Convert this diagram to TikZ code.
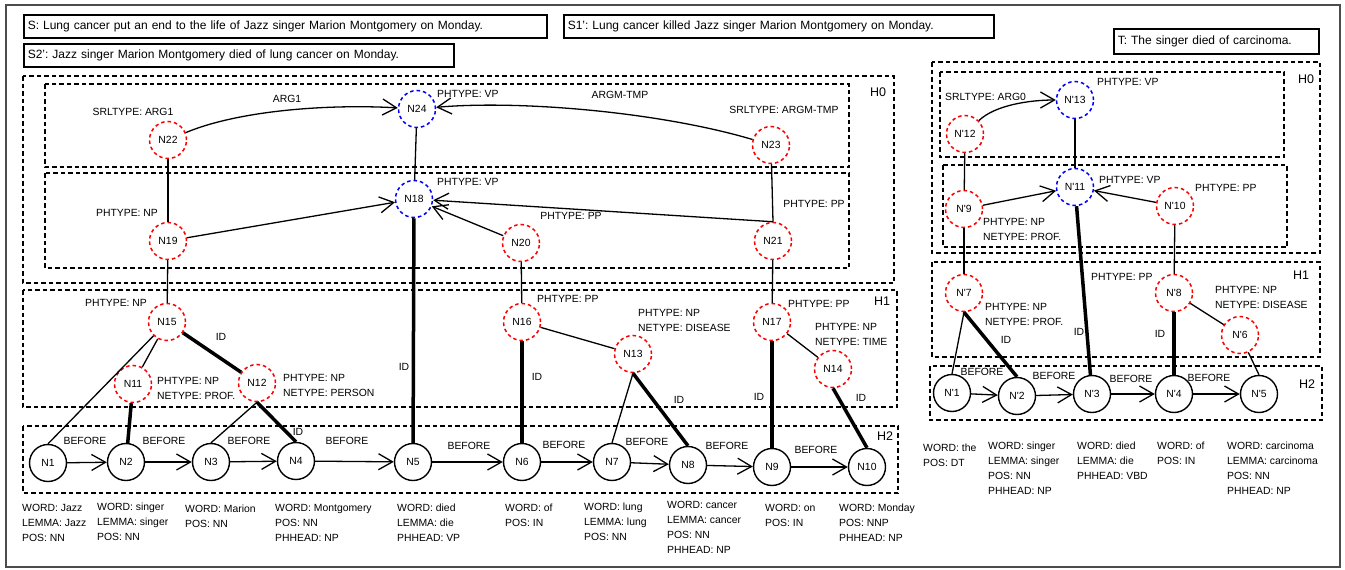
\documentclass[tikz,border=0pt]{standalone}
\usepackage{fontspec}
\setmainfont{Liberation Sans}
\usetikzlibrary{arrows.meta}
\frenchspacing
\begin{document}
\begin{tikzpicture}[x=1pt,y=-1pt,
  every node/.style={font=\fontsize{10.4}{15}\selectfont, inner sep=0pt},
  tok/.style={circle,draw,line width=1.4pt,minimum size=37pt},
  rnode/.style={circle,draw=red,dash pattern=on 3.5pt off 3pt,line width=1.5pt,minimum size=37pt},
  bnode/.style={circle,draw=blue,dash pattern=on 3.5pt off 3pt,line width=1.5pt,minimum size=37pt},
  ln/.style={line width=1.3pt},
  idl/.style={line width=3.5pt},
  arr/.style={line width=1.3pt,-{Straight Barb[length=14pt,width=16pt,line width=1.3pt]}},
  hbox/.style={dash pattern=on 4.5pt off 3pt,line width=1.5pt},
  lbl/.style={anchor=west},
  mlbl/.style={anchor=north west,align=left},
  hl/.style={font=\fontsize{12.5}{14}\selectfont},
  capbox/.style={draw,line width=1.5pt,font=\fontsize{12}{14}\selectfont,anchor=north west,align=left,inner xsep=4pt,minimum height=23pt}
]
\useasboundingbox (0,0) rectangle (1345,570);
\draw[black!70,line width=1.2pt] (6,5) rectangle (1340,567);

% captions
\node[capbox,text width=515pt] (S) at (23,14) {S: Lung cancer put an end to the life of Jazz singer Marion Montgomery on Monday.};
\node[capbox,text width=422pt] (S2) at (23,43) {S2’: Jazz singer Marion Montgomery died of lung cancer on Monday.};
\node[capbox,text width=422pt] (S1) at (563,14) {S1’: Lung cancer killed Jazz singer Marion Montgomery on Monday.};
\node[capbox,text width=197pt,minimum height=25pt] (T) at (1113,28) {T: The singer died of carcinoma.};

% region boxes left
\draw[hbox] (23,76) rectangle (894,283);
\draw[hbox] (45,84) rectangle (849,167);
\draw[hbox] (45,173) rectangle (849,268);
\draw[hbox] (23,290) rectangle (897,407);
\draw[hbox] (23,426) rectangle (898,493);
% region boxes right
\draw[hbox] (932,62) rectangle (1320,253);
\draw[hbox] (940,72) rectangle (1284,157);
\draw[hbox] (943,165) rectangle (1287,247);
\draw[hbox] (932,262) rectangle (1320,357);
\draw[hbox] (930,366) rectangle (1322,420);

\node[hl] (h0l) at (878,92) {H0};
\node[hl] (h1l) at (882,301) {H1};
\node[hl] (h2l) at (885,436) {H2};
\node[hl] (h0r) at (1306,79) {H0};
\node[hl] (h1r) at (1301,275) {H1};
\node[hl] (h2r) at (1307,384) {H2};

% left nodes
\node[rnode] (N22) at (168,140) {N22};
\node[bnode] (N24) at (417,109) {N24};
\node[rnode] (N23) at (771,145) {N23};
\node[bnode] (N18) at (414,199) {N18};
\node[rnode] (N19) at (168,241) {N19};
\node[rnode] (N20) at (521,243) {N20};
\node[rnode] (N21) at (773,241) {N21};
\node[rnode] (N15) at (167,322) {N15};
\node[rnode] (N11) at (133,384) {N11};
\node[rnode] (N12) at (257,383) {N12};
\node[rnode] (N16) at (522,322) {N16};
\node[rnode] (N13) at (633,354) {N13};
\node[rnode] (N17) at (772,322) {N17};
\node[rnode] (N14) at (833,369) {N14};
\node[tok] (N1) at (48,463) {N1};
\node[tok] (N2) at (126,462) {N2};
\node[tok] (N3) at (211,462) {N3};
\node[tok] (N4) at (296,461) {N4};
\node[tok] (N5) at (413,462) {N5};
\node[tok] (N6) at (522,462) {N6};
\node[tok] (N7) at (612,462) {N7};
\node[tok] (N8) at (688,465) {N8};
\node[tok] (N9) at (772,467) {N9};
\node[tok] (N10) at (867,467) {N10};

% right nodes
\node[bnode] (M13) at (1075,100) {N\textquotesingle 13};
\node[rnode] (M12) at (965,134) {N\textquotesingle 12};
\node[bnode] (M11) at (1075,187) {N\textquotesingle 11};
\node[rnode] (M9) at (964,209) {N\textquotesingle 9};
\node[rnode] (M10) at (1175,206) {N\textquotesingle 10};
\node[rnode] (M7) at (964,293) {N\textquotesingle 7};
\node[rnode] (M8) at (1174,293) {N\textquotesingle 8};
\node[rnode] (M6) at (1240,335) {N\textquotesingle 6};
\node[tok] (M1) at (952,393) {N\textquotesingle 1};
\node[tok] (M2) at (1017,396) {N\textquotesingle 2};
\node[tok] (M3) at (1092,394) {N\textquotesingle 3};
\node[tok] (M4) at (1174,394) {N\textquotesingle 4};
\node[tok] (M5) at (1259,394) {N\textquotesingle 5};

% left edges
\draw[arr] (N22) .. controls (240,110) and (330,104) .. (N24);
\draw[arr] (N23) .. controls (660,112) and (520,100) .. (N24);
\draw[ln] (N24) -- (N18);
\draw[ln] (N22) -- (N19);
\draw[arr] (N19) -- (N18);
\draw[arr] (N20) -- (N18);
\draw[arr] (N21.north) -- (N18);
\draw[ln] (N23) -- (N21.north);
\draw[ln] (N19) -- (N15);
\draw[idl] (N18) -- (N5);
\draw[ln] (N20) -- (N16);
\draw[ln] (N21) -- (N17);
\draw[ln] (N15) -- (N1.north);
\draw[ln] (N15) -- (N11);
\draw[idl] (N15) -- (N12);
\draw[idl] (N11) -- (N2);
\draw[ln] (N12.south) -- (N3.north);
\draw[idl] (N12.south) -- (N4.north);
\draw[idl] (N16) -- (N6);
\draw[ln] (N16) -- (N13);
\draw[ln] (N13.south) -- (N7.north);
\draw[idl] (N13.south) -- (N8.north);
\draw[idl] (N17) -- (N9);
\draw[ln] (N17) -- (N14);
\draw[idl] (N14.south) -- (N10.north);
\draw[arr] (N1) -- (N2);
\draw[arr] (N2) -- (N3);
\draw[arr] (N3) -- (N4);
\draw[arr] (N4) -- (N5);
\draw[arr] (N5) -- (N6);
\draw[arr] (N6) -- (N7);
\draw[arr] (N7) -- (N8);
\draw[arr] (N8) -- (N9);
\draw[arr] (N9) -- (N10);

% right edges
\draw[arr] (M12) .. controls (995,105) and (1030,100) .. (M13);
\draw[ln] (M13) -- (M11);
\draw[ln] (M12) -- (M9);
\draw[arr] (M9) -- (M11);
\draw[arr] (M10) -- (M11);
\draw[ln] (M9) -- (M7);
\draw[ln] (M10) -- (M8);
\draw[idl] (M11) -- (M3);
\draw[ln] (M7.south) -- (M1.north);
\draw[idl] (M7.south) -- (M2.north);
\draw[idl] (M8) -- (M4);
\draw[ln] (M8) -- (M6);
\draw[ln] (M6) -- (M5.north);
\draw[arr] (M1) -- (M2);
\draw[arr] (M2) -- (M3);
\draw[arr] (M3) -- (M4);
\draw[arr] (M4) -- (M5);

% left labels
\node (l22) at (133,112) {SRLTYPE: ARG1};
\node (lA1) at (287,99) {ARG1};
\node[lbl] (l24) at (437,94) {PHTYPE: VP};
\node (lAT) at (620,95) {ARGM-TMP};
\node (l23) at (784,110) {SRLTYPE: ARGM-TMP};
\node[lbl] (l18) at (437,182) {PHTYPE: VP};
\node (l19) at (127,213) {PHTYPE: NP};
\node (l20) at (571,216) {PHTYPE: PP};
\node (l21) at (814,204) {PHTYPE: PP};
\node (l15) at (116,303) {PHTYPE: NP};
\node (id1) at (221,337) {ID};
\node[mlbl] (l11) at (157,377) {PHTYPE: NP\\NETYPE: PROF.};
\node[mlbl] (l12) at (283,374) {PHTYPE: NP\\NETYPE: PERSON};
\node (id2) at (404,367) {ID};
\node (id3) at (298,432) {ID};
\node[lbl] (l16) at (537,299) {PHTYPE: PP};
\node[mlbl] (l13) at (638,309) {PHTYPE: NP\\NETYPE: DISEASE};
\node (id4) at (537,377) {ID};
\node (id5) at (679,400) {ID};
\node[lbl] (l17) at (788,304) {PHTYPE: PP};
\node[mlbl] (l14) at (815,323) {PHTYPE: NP\\NETYPE: TIME};
\node (id6) at (759,397) {ID};
\node (id7) at (861,398) {ID};
\node (b1) at (85,441) {BEFORE};
\node (b2) at (164,441) {BEFORE};
\node (b3) at (249,441) {BEFORE};
\node (b4) at (347,441) {BEFORE};
\node (b5) at (469,446) {BEFORE};
\node (b6) at (564,445) {BEFORE};
\node (b7) at (647,442) {BEFORE};
\node (b8) at (727,446) {BEFORE};
\node (b9) at (816,450) {BEFORE};
\node[mlbl] (w1) at (22,504) {WORD: Jazz\\LEMMA: Jazz\\POS: NN};
\node[mlbl] (w2) at (97,503) {WORD: singer\\LEMMA: singer\\POS: NN};
\node[mlbl] (w3) at (185,505) {WORD: Marion\\POS: NN};
\node[mlbl] (w4) at (275,504) {WORD: Montgomery\\POS: NN\\PHHEAD: NP};
\node[mlbl] (w5) at (397,504) {WORD: died\\LEMMA: die\\PHHEAD: VP};
\node[mlbl] (w6) at (505,504) {WORD: of\\POS: IN};
\node[mlbl] (w7) at (584,503) {WORD: lung\\LEMMA: lung\\POS: NN};
\node[mlbl] (w8) at (667,501) {WORD: cancer\\LEMMA: cancer\\POS: NN\\PHHEAD: NP};
\node[mlbl] (w9) at (765,504) {WORD: on\\POS: IN};
\node[mlbl] (w10) at (839,504) {WORD: Monday\\POS: NNP\\PHHEAD: NP};

% right labels
\node[lbl] (r13) at (1097,82) {PHTYPE: VP};
\node[lbl] (r12) at (945,97) {SRLTYPE: ARG0};
\node[lbl] (r11) at (1099,180) {PHTYPE: VP};
\node[lbl] (r10) at (1195,188) {PHTYPE: PP};
\node[mlbl] (r9) at (983,218) {PHTYPE: NP\\NETYPE: PROF.};
\node[lbl] (r3) at (1091,277) {PHTYPE: PP};
\node[mlbl] (r8) at (1215,286) {PHTYPE: NP\\NETYPE: DISEASE};
\node[mlbl] (r7) at (985,303) {PHTYPE: NP\\NETYPE: PROF.};
\node (rid1) at (1006,340) {ID};
\node (rid2) at (1079,332) {ID};
\node (rid3) at (1160,334) {ID};
\node (rb1) at (982,372) {BEFORE};
\node (rb2) at (1054,376) {BEFORE};
\node (rb3) at (1131,379) {BEFORE};
\node (rb4) at (1209,378) {BEFORE};
\node[mlbl] (rw1) at (923,444) {WORD: the\\POS: DT};
\node[mlbl] (rw2) at (988,442) {WORD: singer\\LEMMA: singer\\POS: NN\\PHHEAD: NP};
\node[mlbl] (rw3) at (1077,442) {WORD: died\\LEMMA: die\\PHHEAD: VBD};
\node[mlbl] (rw4) at (1157,442) {WORD: of\\POS: IN};
\node[mlbl] (rw5) at (1227,442) {WORD: carcinoma\\LEMMA: carcinoma\\POS: NN\\PHHEAD: NP};
\end{tikzpicture}
\end{document}
